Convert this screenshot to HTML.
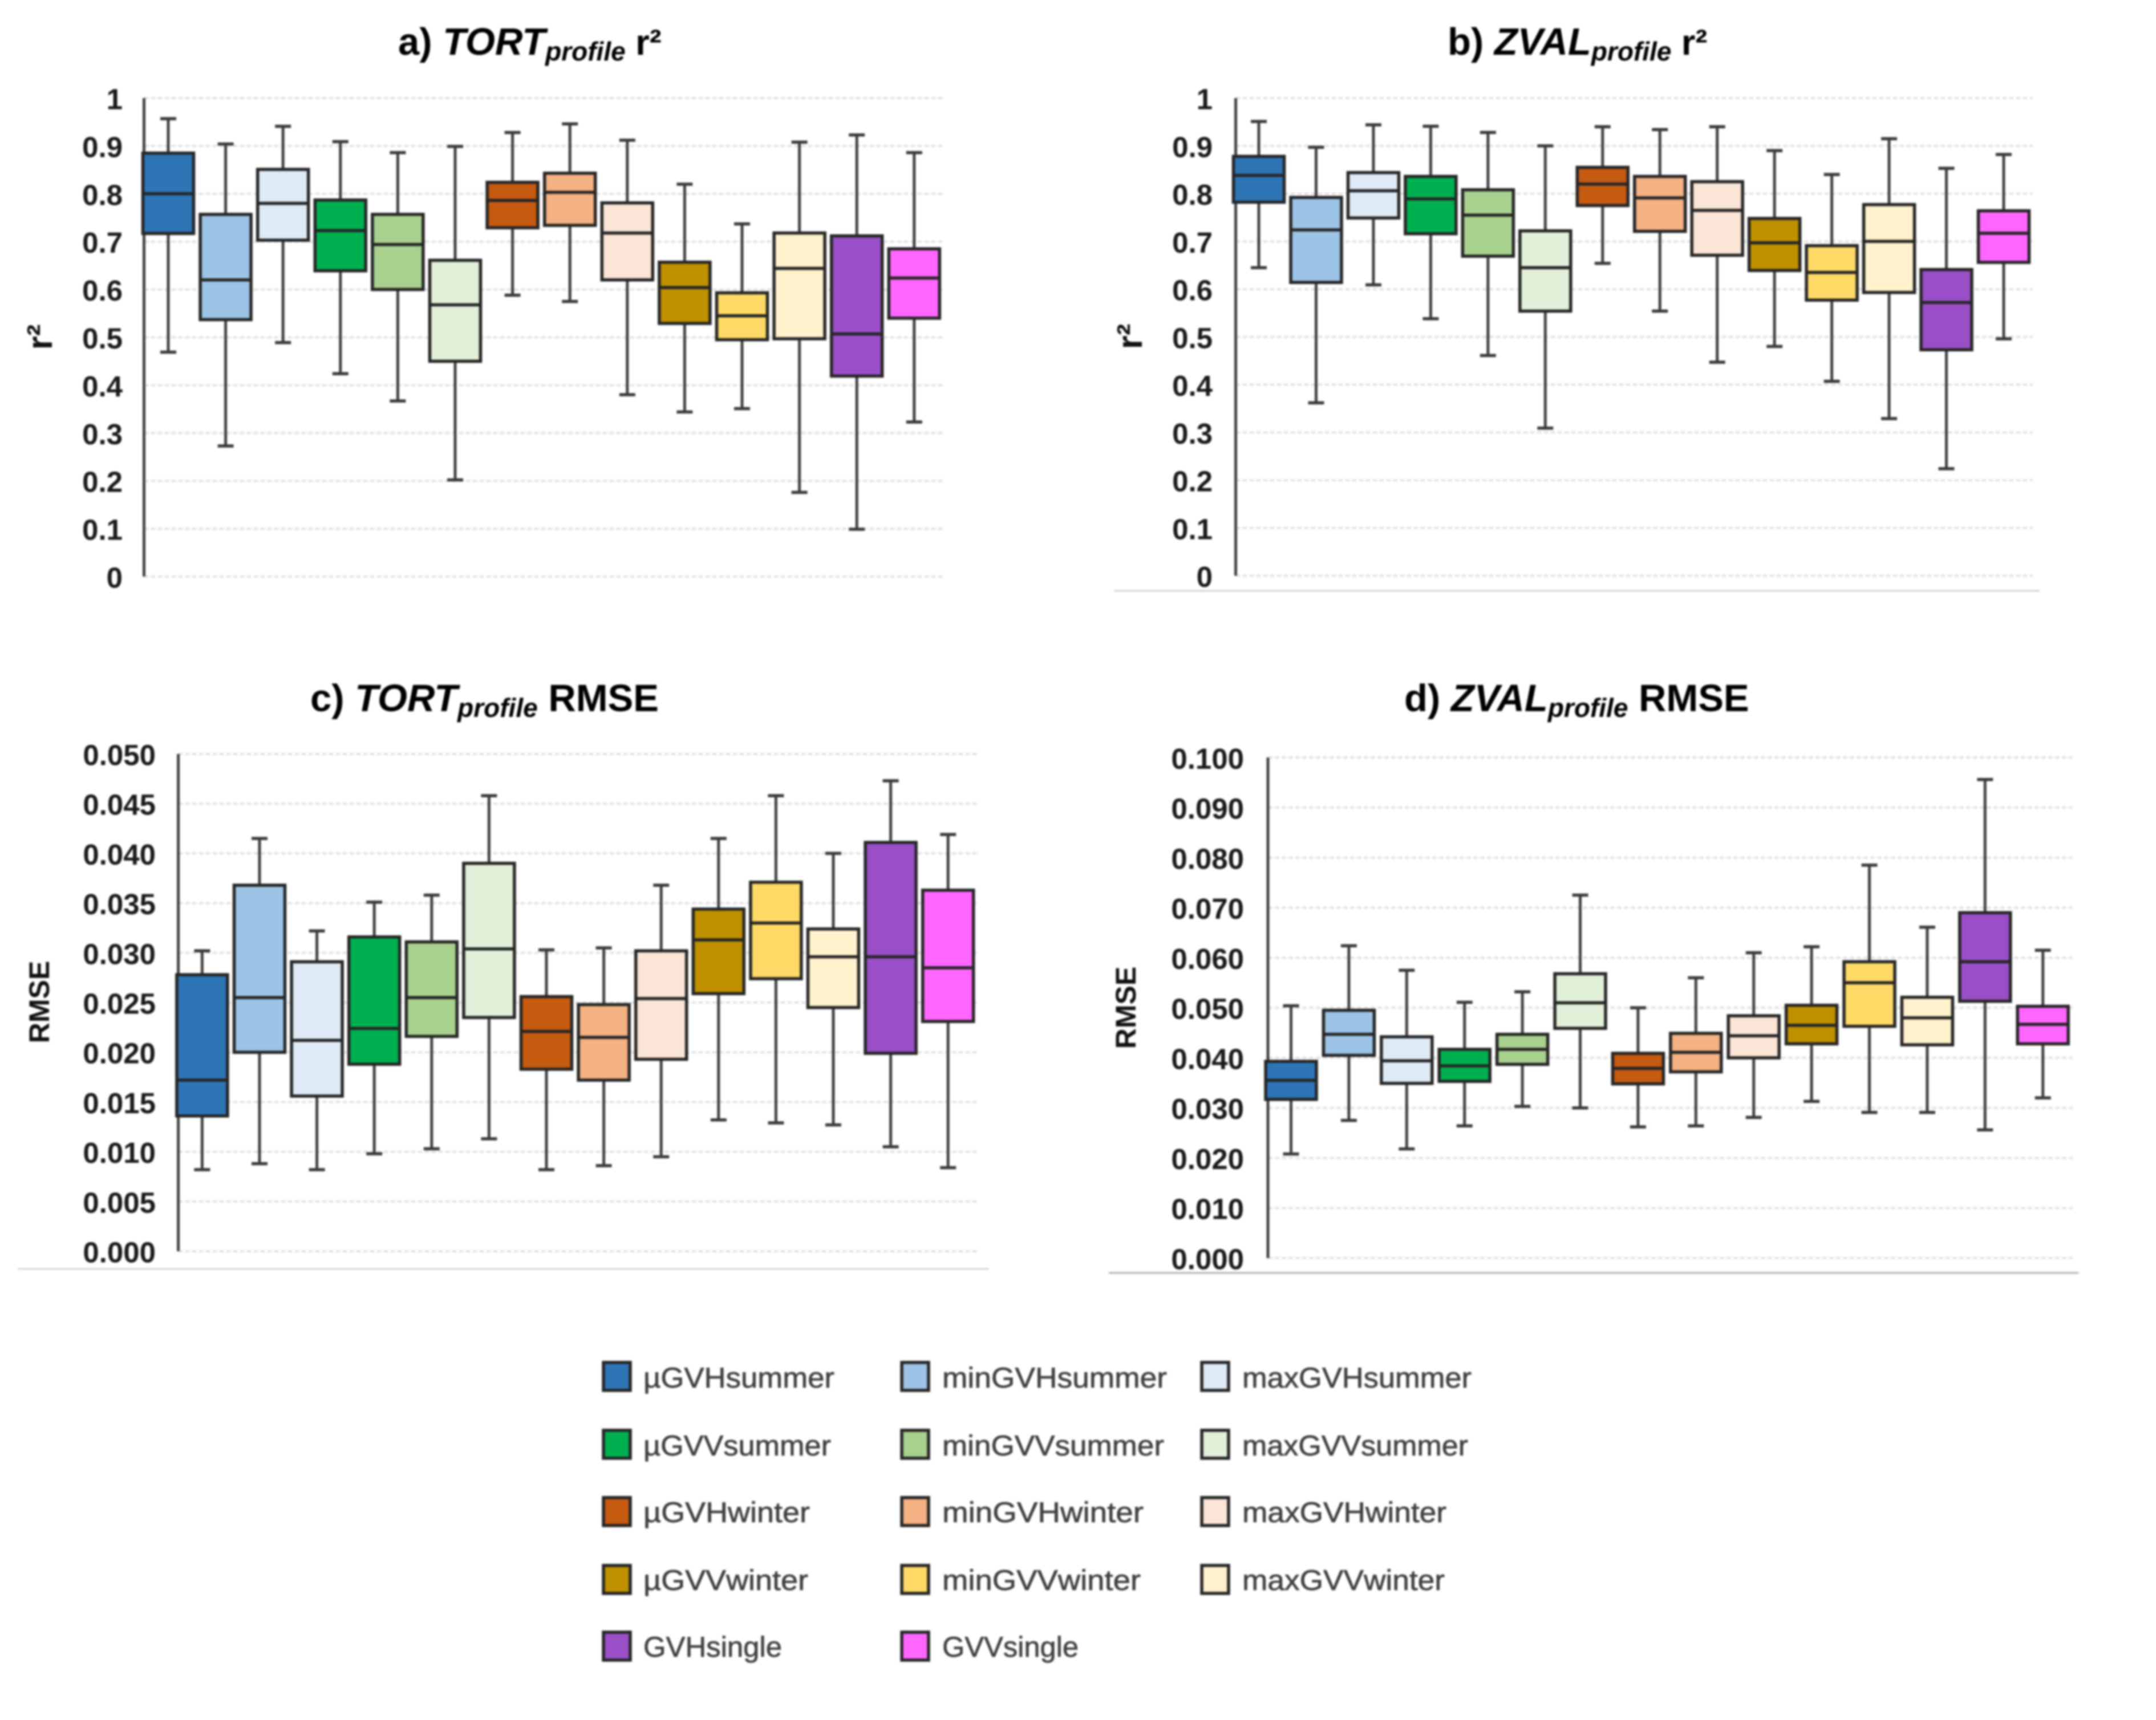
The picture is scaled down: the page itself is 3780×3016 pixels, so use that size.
<!DOCTYPE html>
<html lang="en">
<head>
<meta charset="utf-8">
<title>TORT and ZVAL profile box plots</title>
<style>
html,body{margin:0;padding:0;background:#fff;width:3780px;height:3016px;overflow:hidden}
svg{display:block;filter:blur(1.5px)}
text{font-family:"Liberation Sans",sans-serif}
.title{font-size:67px;font-weight:bold;fill:#000}
.ytitle{font-size:50px;font-weight:bold;fill:#111;text-anchor:middle}
.tick{font-size:51px;font-weight:bold;fill:#1a1a1a;text-anchor:end}
.leg{font-size:50px;fill:#404040;stroke:#404040;stroke-width:.7}
.sw{stroke:#262626;stroke-width:5.5}
</style>
</head>
<body>
<svg id="figure" xmlns="http://www.w3.org/2000/svg" width="3780" height="3016" viewBox="0 0 3780 3016">
  <rect width="3780" height="3016" fill="#ffffff"/>

  <text class="title" x="698" y="96">a) <tspan font-style="italic">TORT</tspan><tspan font-style="italic" font-size="46" dy="10">profile</tspan><tspan dy="-10" font-size="63"> r²</tspan></text>
  <text class="title" x="2538" y="96">b) <tspan font-style="italic">ZVAL</tspan><tspan font-style="italic" font-size="46" dy="10">profile</tspan><tspan dy="-10" font-size="63"> r²</tspan></text>
  <text class="title" x="544" y="1247">c) <tspan font-style="italic">TORT</tspan><tspan font-style="italic" font-size="46" dy="10">profile</tspan><tspan dy="-10"> RMSE</tspan></text>
  <text class="title" x="2462" y="1247">d) <tspan font-style="italic">ZVAL</tspan><tspan font-style="italic" font-size="46" dy="10">profile</tspan><tspan dy="-10"> RMSE</tspan></text>

  <text class="ytitle" style="font-size:62px" transform="translate(91,591) rotate(-90)">r²</text>
  <text class="ytitle" style="font-size:62px" transform="translate(2002,590) rotate(-90)">r²</text>
  <text class="ytitle" transform="translate(86,1757) rotate(-90)">RMSE</text>
  <text class="ytitle" transform="translate(1991,1767) rotate(-90)">RMSE</text>

  <line x1="1953" x2="3576" y1="1036" y2="1036" stroke="#cfd3d7" stroke-width="3"/>
  <line x1="31" x2="1734" y1="2225" y2="2225" stroke="#d5d8dc" stroke-width="3"/>
  <line x1="1944" x2="3644" y1="2232" y2="2232" stroke="#aeb0b3" stroke-width="3"/>

  <g id="panels"></g>

  <g>
    <g><rect class="sw" x="1058" y="2389" width="47" height="49" fill="#2e75b6"/><text class="leg" x="1128" y="2433" textLength="335" lengthAdjust="spacingAndGlyphs">µGVHsummer</text></g>
    <g><rect class="sw" x="1581" y="2389" width="47" height="49" fill="#9dc3e6"/><text class="leg" x="1652" y="2433" textLength="394" lengthAdjust="spacingAndGlyphs">minGVHsummer</text></g>
    <g><rect class="sw" x="2107" y="2389" width="47" height="49" fill="#deebf7"/><text class="leg" x="2178" y="2433" textLength="402" lengthAdjust="spacingAndGlyphs">maxGVHsummer</text></g>

    <g><rect class="sw" x="1058" y="2508" width="47" height="49" fill="#00b050"/><text class="leg" x="1128" y="2552" textLength="329" lengthAdjust="spacingAndGlyphs">µGVVsummer</text></g>
    <g><rect class="sw" x="1581" y="2508" width="47" height="49" fill="#a9d18e"/><text class="leg" x="1652" y="2552" textLength="389" lengthAdjust="spacingAndGlyphs">minGVVsummer</text></g>
    <g><rect class="sw" x="2107" y="2508" width="47" height="49" fill="#e2f0d9"/><text class="leg" x="2178" y="2552" textLength="396" lengthAdjust="spacingAndGlyphs">maxGVVsummer</text></g>

    <g><rect class="sw" x="1058" y="2626" width="47" height="49" fill="#c55a11"/><text class="leg" x="1128" y="2669" textLength="292" lengthAdjust="spacingAndGlyphs">µGVHwinter</text></g>
    <g><rect class="sw" x="1581" y="2626" width="47" height="49" fill="#f4b183"/><text class="leg" x="1652" y="2669" textLength="353" lengthAdjust="spacingAndGlyphs">minGVHwinter</text></g>
    <g><rect class="sw" x="2107" y="2626" width="47" height="49" fill="#fbe5d6"/><text class="leg" x="2178" y="2669" textLength="358" lengthAdjust="spacingAndGlyphs">maxGVHwinter</text></g>

    <g><rect class="sw" x="1058" y="2745" width="47" height="49" fill="#bf9000"/><text class="leg" x="1128" y="2788" textLength="289" lengthAdjust="spacingAndGlyphs">µGVVwinter</text></g>
    <g><rect class="sw" x="1581" y="2745" width="47" height="49" fill="#ffd966"/><text class="leg" x="1652" y="2788" textLength="348" lengthAdjust="spacingAndGlyphs">minGVVwinter</text></g>
    <g><rect class="sw" x="2107" y="2745" width="47" height="49" fill="#fff2cc"/><text class="leg" x="2178" y="2788" textLength="355" lengthAdjust="spacingAndGlyphs">maxGVVwinter</text></g>

    <g><rect class="sw" x="1058" y="2862" width="47" height="49" fill="#9a4fc8"/><text class="leg" x="1128" y="2905" textLength="243" lengthAdjust="spacingAndGlyphs">GVHsingle</text></g>
    <g><rect class="sw" x="1581" y="2862" width="47" height="49" fill="#ff66ff"/><text class="leg" x="1652" y="2905" textLength="239" lengthAdjust="spacingAndGlyphs">GVVsingle</text></g>
  </g>
</svg>

<script>
// Categories and their fill colours
const categories = ['µGVHsummer','minGVHsummer','maxGVHsummer','µGVVsummer','minGVVsummer','maxGVVsummer','µGVHwinter','minGVHwinter','maxGVHwinter','µGVVwinter','minGVVwinter','maxGVVwinter','GVHsingle','GVVsingle'];
const categoryColors = ['#2e75b6','#9dc3e6','#deebf7','#00b050','#a9d18e','#e2f0d9','#c55a11','#f4b183','#fbe5d6','#bf9000','#ffd966','#fff2cc','#9a4fc8','#ff66ff'];

// Tick labels
const r2Ticks = ['0','0.1','0.2','0.3','0.4','0.5','0.6','0.7','0.8','0.9','1'];
const tortRmseTicks = ['0.000','0.005','0.010','0.015','0.020','0.025','0.030','0.035','0.040','0.045','0.050'];
const zvalRmseTicks = ['0.000','0.010','0.020','0.030','0.040','0.050','0.060','0.070','0.080','0.090','0.100'];

// Panel a: TORT profile r2
const aHigh = [0.957,0.904,0.941,0.909,0.886,0.899,0.928,0.946,0.912,0.820,0.737,0.908,0.923,0.886];
const aQ3   = [0.885,0.757,0.851,0.787,0.757,0.661,0.824,0.843,0.781,0.657,0.593,0.718,0.712,0.685];
const aMed  = [0.800,0.620,0.780,0.723,0.694,0.568,0.786,0.803,0.718,0.604,0.545,0.644,0.507,0.624];
const aQ1   = [0.717,0.537,0.703,0.639,0.600,0.450,0.729,0.734,0.620,0.529,0.495,0.497,0.419,0.540];
const aLow  = [0.469,0.273,0.489,0.424,0.367,0.202,0.588,0.575,0.380,0.344,0.351,0.176,0.099,0.323];

// Panel b: ZVAL profile r2
const bHigh = [0.951,0.897,0.944,0.941,0.928,0.900,0.940,0.934,0.940,0.890,0.840,0.915,0.853,0.882];
const bQ3   = [0.878,0.792,0.844,0.836,0.808,0.722,0.855,0.836,0.825,0.748,0.691,0.777,0.641,0.764];
const bMed  = [0.838,0.724,0.806,0.789,0.755,0.645,0.820,0.791,0.765,0.697,0.635,0.700,0.572,0.717];
const bQ1   = [0.782,0.614,0.749,0.716,0.669,0.554,0.775,0.721,0.671,0.639,0.577,0.593,0.473,0.656];
const bLow  = [0.645,0.362,0.609,0.538,0.461,0.309,0.654,0.554,0.447,0.480,0.407,0.329,0.224,0.496];

// Panel c: TORT profile RMSE
const cHigh = [0.0302,0.0415,0.0322,0.0351,0.0358,0.0458,0.0303,0.0305,0.0368,0.0415,0.0458,0.0400,0.0473,0.0419];
const cQ3   = [0.0278,0.0368,0.0291,0.0316,0.0311,0.0390,0.0256,0.0248,0.0302,0.0344,0.0371,0.0324,0.0411,0.0363];
const cMed  = [0.0172,0.0255,0.0212,0.0224,0.0255,0.0304,0.0221,0.0215,0.0254,0.0313,0.0330,0.0296,0.0296,0.0285];
const cQ1   = [0.0136,0.0200,0.0156,0.0188,0.0216,0.0235,0.0183,0.0172,0.0193,0.0259,0.0274,0.0245,0.0199,0.0231];
const cLow  = [0.0082,0.0088,0.0082,0.0098,0.0103,0.0113,0.0082,0.0086,0.0095,0.0132,0.0129,0.0127,0.0105,0.0084];

// Panel d: ZVAL profile RMSE
const dHigh = [0.0504,0.0624,0.0575,0.0511,0.0532,0.0725,0.0500,0.0560,0.0610,0.0622,0.0785,0.0661,0.0956,0.0615];
const dQ3   = [0.0393,0.0495,0.0442,0.0417,0.0447,0.0568,0.0409,0.0449,0.0484,0.0505,0.0592,0.0521,0.0690,0.0503];
const dMed  = [0.0355,0.0447,0.0394,0.0384,0.0417,0.0510,0.0379,0.0411,0.0444,0.0465,0.0550,0.0480,0.0592,0.0467];
const dQ1   = [0.0317,0.0405,0.0349,0.0353,0.0387,0.0459,0.0348,0.0372,0.0400,0.0428,0.0463,0.0426,0.0513,0.0428];
const dLow  = [0.0208,0.0275,0.0218,0.0264,0.0303,0.0300,0.0262,0.0264,0.0281,0.0313,0.0291,0.0291,0.0256,0.0320];

const SVG_NS = 'http://www.w3.org/2000/svg';
const BOX_WIDTH = 89;
const CAP_WIDTH = 28;

function mk(tag, attrs, parent) {
  const node = document.createElementNS(SVG_NS, tag);
  for (const key in attrs) node.setAttribute(key, attrs[key]);
  parent.appendChild(node);
  return node;
}

function drawPanel(id, cfg, ticks, high, q3, med, q1, low) {
  const root = document.getElementById('panels');
  const g = mk('g', {}, root);
  
  

  // Axis functions
  const yScale = v => cfg.yZero - (v / cfg.max) * (cfg.yZero - cfg.yTop);
  const xScale = i => cfg.firstCenter + i * cfg.step;

  ticks.forEach(function (label) {
    const v = parseFloat(label);
    const y = yScale(v);
    const grid = mk('line', {x1: cfg.axisX, x2: cfg.gridRight, y1: y, y2: y, stroke: '#e3e3e3', 'stroke-width': 4, 'stroke-dasharray': '8 4'}, g);
    
    
    const t = mk('text', {x: cfg.labelRight, y: y + 19.5, class: 'tick'}, g);
    t.textContent = label;
    
    
  });

  const axis = mk('line', {x1: cfg.axisX, x2: cfg.axisX, y1: yScale(cfg.max), y2: yScale(0), stroke: '#404040', 'stroke-width': 5}, g);
  
  

  categories.forEach(function (cat, i) {
    const x = xScale(i);
    const box = mk('g', {}, g);
    
    

    const whisker = mk('line', {x1: x, x2: x, y1: yScale(high[i]), y2: yScale(low[i]), stroke: '#3f3f3f', 'stroke-width': 5}, box);
    
    

    const capTop = mk('line', {x1: x - CAP_WIDTH / 2, x2: x + CAP_WIDTH / 2, y1: yScale(high[i]), y2: yScale(high[i]), stroke: '#3a3a3a', 'stroke-width': 5.5}, box);
    
    

    const capBottom = mk('line', {x1: x - CAP_WIDTH / 2, x2: x + CAP_WIDTH / 2, y1: yScale(low[i]), y2: yScale(low[i]), stroke: '#3a3a3a', 'stroke-width': 5.5}, box);
    
    

    const rect = mk('rect', {x: x - BOX_WIDTH / 2, y: yScale(q3[i]), width: BOX_WIDTH, height: yScale(q1[i]) - yScale(q3[i]), fill: categoryColors[i], stroke: '#262626', 'stroke-width': 5.5}, box);
    
    

    const median = mk('line', {x1: x - BOX_WIDTH / 2, x2: x + BOX_WIDTH / 2, y1: yScale(med[i]), y2: yScale(med[i]), stroke: '#262626', 'stroke-width': 5.5}, box);
    
    
  });
}

drawPanel('a', {axisX: 252.5, gridRight: 1656, labelRight: 215, yTop: 172, yZero: 1011, max: 1, firstCenter: 295, step: 100.6}, r2Ticks, aHigh, aQ3, aMed, aQ1, aLow);
drawPanel('b', {axisX: 2166.5, gridRight: 3564, labelRight: 2126, yTop: 172, yZero: 1009.5, max: 1, firstCenter: 2207, step: 100.46}, r2Ticks, bHigh, bQ3, bMed, bQ1, bLow);
drawPanel('c', {axisX: 312.6, gridRight: 1714, labelRight: 273, yTop: 1322, yZero: 2194, max: 0.05, firstCenter: 354.4, step: 100.6}, tortRmseTicks, cHigh, cQ3, cMed, cQ1, cLow);
drawPanel('d', {axisX: 2223, gridRight: 3634, labelRight: 2181, yTop: 1328.3, yZero: 2206, max: 0.1, firstCenter: 2263.5, step: 101.4}, zvalRmseTicks, dHigh, dQ3, dMed, dQ1, dLow);
</script>
</body>
</html>
